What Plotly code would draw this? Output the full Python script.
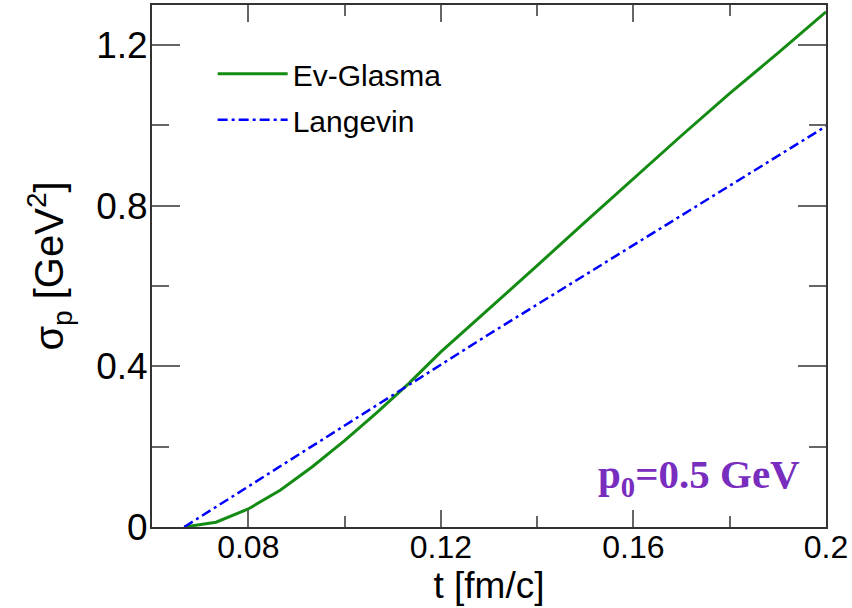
import plotly.graph_objects as go

# Ev-Glasma
t_glasma = [0.0667, 0.0733, 0.080, 0.0867, 0.0933, 0.100, 0.1067, 0.1133, 0.120,
            0.130, 0.140, 0.150, 0.160, 0.170, 0.180, 0.190, 0.200]
s_glasma = [0.0, 0.012, 0.045, 0.092, 0.150, 0.215, 0.285, 0.357, 0.436,
            0.543, 0.651, 0.760, 0.868, 0.975, 1.080, 1.180, 1.283]

# Langevin
t_lang = [0.0667, 0.070, 0.080, 0.090, 0.100, 0.110, 0.120, 0.130, 0.140,
          0.150, 0.160, 0.170, 0.180, 0.190, 0.200]
s_lang = [0.0, 0.025, 0.102, 0.178, 0.254, 0.330, 0.405, 0.480, 0.554,
          0.628, 0.702, 0.776, 0.850, 0.924, 0.998]

names = ["Ev-Glasma", "Langevin"]
label_text = "<b>p<sub>0</sub>=0.5 GeV</b>"

fig = go.Figure()
fig.add_trace(go.Scatter(x=t_glasma, y=s_glasma, mode="lines", name=names[0],
                         legendgroup="a",
                         line=dict(color="rgb(20,140,20)", width=3)))
fig.add_trace(go.Scatter(x=t_lang, y=s_lang, mode="lines", name=names[1],
                         legendgroup="b",
                         line=dict(color="rgb(0,0,255)", width=2.5,
                                   dash="10px,4px,3px,4px")))

axis_common = dict(
    showgrid=False, zeroline=False, showline=True, linecolor="#333333",
    linewidth=2, mirror="ticks", ticks="inside", tickcolor="#666666",
    tickwidth=1.5,
)

fig.update_xaxes(
    **axis_common,
    range=[0.06, 0.2], tick0=0, dtick=0.04, ticklen=17,
    minor=dict(dtick=0.02, ticks="inside", ticklen=11, tickcolor="#666666",
               tickwidth=1.5, showgrid=False),
    ticklabelstandoff=-9,
    tickfont=dict(family="Liberation Sans", size=32, color="black"),
    title=dict(text="t [fm/c]", standoff=0,
               font=dict(family="Liberation Sans", size=37, color="black")),
)
fig.update_yaxes(
    **axis_common,
    range=[0, 1.3], tick0=0, dtick=0.4, ticklen=28,
    minor=dict(dtick=0.2, ticks="inside", ticklen=17, tickcolor="#666666",
               tickwidth=1.5, showgrid=False),
    ticklabelstandoff=-5,
    tickfont=dict(family="Liberation Sans", size=37, color="black"),
    title=dict(text="σ<sub>p</sub> [GeV<sup>2</sup>]", standoff=20,
               font=dict(family="Liberation Sans", size=40, color="black")),
)

fig.add_annotation(text=label_text, xref="paper", yref="paper",
                   x=0.965, y=0.095, xanchor="right", yanchor="middle",
                   showarrow=False,
                   font=dict(family="Liberation Serif", size=41,
                             color="rgb(120,45,190)"))

fig.update_layout(
    width=852, height=608,
    margin=dict(l=152, r=26, t=5, b=81, autoexpand=False),
    plot_bgcolor="white", paper_bgcolor="white",
    showlegend=True,
    legend=dict(x=0.09, y=0.918, xanchor="left", yanchor="top",
                bgcolor="rgba(0,0,0,0)", tracegroupgap=4, itemwidth=70,
                font=dict(family="Liberation Sans", size=30, color="black")),
)

fig.write_html("out.html")
